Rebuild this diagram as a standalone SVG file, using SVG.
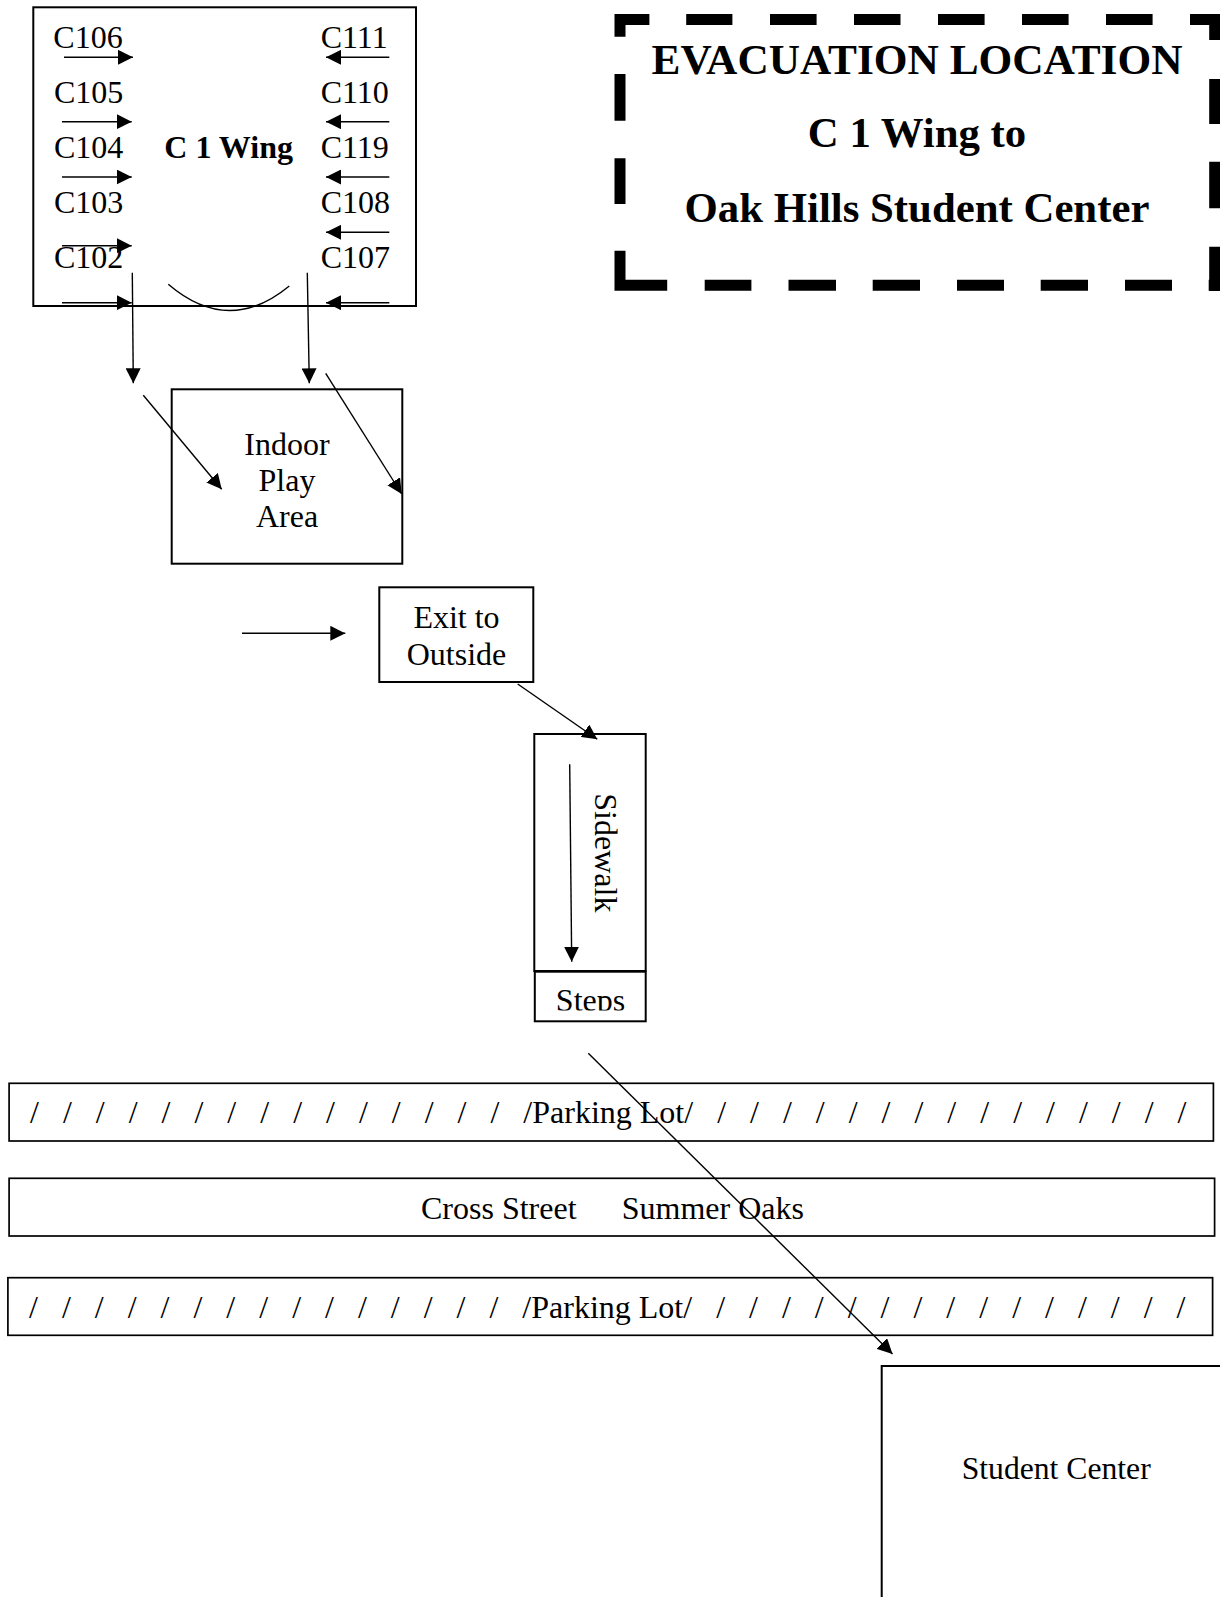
<svg xmlns="http://www.w3.org/2000/svg" width="1220" height="1597" viewBox="0 0 1220 1597">
<style>
text{font-family:"Liberation Serif","Times New Roman",serif;font-size:32px;fill:#000}
.b{font-weight:bold}
.h{font-weight:bold;font-size:42.8px;text-anchor:middle}
.c{text-anchor:middle}
.box{fill:none;stroke:#000;stroke-width:2}
.lot{fill:none;stroke:#000;stroke-width:1.7}
.ln{fill:none;stroke:#000;stroke-width:1.4;marker-end:url(#ah)}
.pl{fill:none;stroke:#000;stroke-width:1.4}
</style>
<defs>
<marker id="ah" markerUnits="userSpaceOnUse" markerWidth="15" markerHeight="15" refX="15" refY="7.5" orient="auto" viewBox="0 0 15 15"><path d="M0,0 L15,7.5 L0,15 z" fill="#000"/></marker>
<clipPath id="stepsClip"><rect x="535" y="972" width="110" height="38.5"/></clipPath>
</defs>
<rect width="1220" height="1597" fill="#fff"/>

<g id="wing">
<rect class="box" x="33.3" y="7.3" width="382.7" height="298.7"/>
<text x="53.3" y="47.7">C106</text>
<text x="54" y="103.3">C105</text>
<text x="54" y="158.3">C104</text>
<text x="54" y="213.3">C103</text>
<text x="54" y="268.3">C102</text>
<text x="320.7" y="47.7">C111</text>
<text x="320.7" y="103.3">C110</text>
<text x="320.7" y="158.3">C119</text>
<text x="320.7" y="213.3">C108</text>
<text x="320.7" y="268.3">C107</text>
<text class="b" x="164.3" y="158.3">C 1 Wing</text>
<path class="pl" d="M168.3,284.3 Q228.8,336 289.3,286"/>
</g>

<g id="title">
<path fill="none" stroke="#000" stroke-width="11" d="M614.5,19.5H649.4M686.2,19.5H732.4M770,19.5H816.6M854,19.5H900.5M938,19.5H984.6M1022,19.5H1068.6M1106,19.5H1152.6M1190,19.5H1220
M620,14V36.7M620,74V120.7M620,158.3V204M620,250.7V290.7
M614.5,285.3H667.2M704.7,285.3H751.4M788.5,285.3H836M872.7,285.3H920M957,285.3H1004M1040.7,285.3H1088M1125,285.3H1172M1208.7,285.3H1220
M1214.7,14V40M1214.7,79V124M1214.7,161.7V208.3M1214.7,246.7V291"/>
<text class="h" x="917" y="74" textLength="531" lengthAdjust="spacingAndGlyphs">EVACUATION LOCATION</text>
<text class="h" x="917" y="147">C 1 Wing to</text>
<text class="h" x="917" y="222">Oak Hills Student Center</text>
</g>

<g id="indoor">
<rect class="box" x="171.7" y="389.3" width="230.6" height="174.4"/>
<text class="c" x="287" y="455">Indoor</text>
<text class="c" x="287" y="490.7">Play</text>
<text class="c" x="287" y="527.3">Area</text>
</g>

<g id="exit">
<rect class="box" x="379.3" y="587.3" width="154" height="94.7"/>
<text class="c" x="456.5" y="628.3">Exit to</text>
<text class="c" x="456.5" y="665">Outside</text>
</g>

<g id="sidewalk">
<rect class="box" x="534.3" y="734" width="111.4" height="237"/>
<text transform="translate(595,793.3) rotate(90)">Sidewalk</text>
</g>

<g id="steps">
<rect class="box" x="534.8" y="971.7" width="110.9" height="49.6"/>
<text class="c" x="590.5" y="1011" clip-path="url(#stepsClip)">Steps</text>
</g>

<g id="parking-top">
<rect class="lot" x="9.1" y="1083.3" width="1204.3" height="57.7"/>
<text x="30" y="1123.3" xml:space="preserve" style="white-space:pre">/   /   /   /   /   /   /   /   /   /   /   /   /   /   /   /Parking Lot/   /   /   /   /   /   /   /   /   /   /   /   /   /   /   /</text>
</g>

<g id="cross-street">
<rect class="lot" x="9.1" y="1178.3" width="1205.5" height="57.7"/>
<text x="421" y="1219">Cross Street</text>
<text x="621.7" y="1219">Summer Oaks</text>
</g>

<g id="parking-bottom">
<rect class="lot" x="7.9" y="1277.7" width="1204.7" height="57.6"/>
<text x="29" y="1317.8" xml:space="preserve" style="white-space:pre">/   /   /   /   /   /   /   /   /   /   /   /   /   /   /   /Parking Lot/   /   /   /   /   /   /   /   /   /   /   /   /   /   /   /</text>
</g>

<g id="student-center">
<rect class="box" x="881.7" y="1366" width="400" height="300"/>
<text x="961.7" y="1479.3" textLength="189" lengthAdjust="spacingAndGlyphs">Student Center</text>
</g>

<g id="connectors">
<line class="ln" x1="64" y1="57.3" x2="133" y2="57.3"/>
<line class="ln" x1="62" y1="121.7" x2="131.7" y2="121.7"/>
<line class="ln" x1="62" y1="177" x2="131.7" y2="177"/>
<line class="ln" x1="62" y1="245.7" x2="131.7" y2="245.7"/>
<line class="ln" x1="62" y1="302.7" x2="131.7" y2="302.7"/>
<line class="ln" x1="389.3" y1="57.3" x2="326" y2="57.3"/>
<line class="ln" x1="389.3" y1="121.7" x2="326" y2="121.7"/>
<line class="ln" x1="389.3" y1="177" x2="326" y2="177"/>
<line class="ln" x1="389.3" y1="232.3" x2="326" y2="232.3"/>
<line class="ln" x1="389.3" y1="302.7" x2="326" y2="302.7"/>
<line class="ln" x1="132.3" y1="272.7" x2="133.3" y2="383.3"/>
<line class="ln" x1="307.3" y1="272.7" x2="309.3" y2="383.3"/>
<line class="ln" x1="143.3" y1="395.3" x2="221.7" y2="489.3"/>
<line class="ln" x1="325.7" y1="373.3" x2="401.7" y2="494"/>
<line class="ln" x1="242" y1="633.3" x2="345.3" y2="633.3"/>
<line class="ln" x1="517.7" y1="684" x2="597.3" y2="739.3"/>
<line class="ln" x1="569.7" y1="764.3" x2="571.7" y2="961.7"/>
<line class="ln" x1="588.3" y1="1053.3" x2="892.5" y2="1354"/>
</g>
</svg>
